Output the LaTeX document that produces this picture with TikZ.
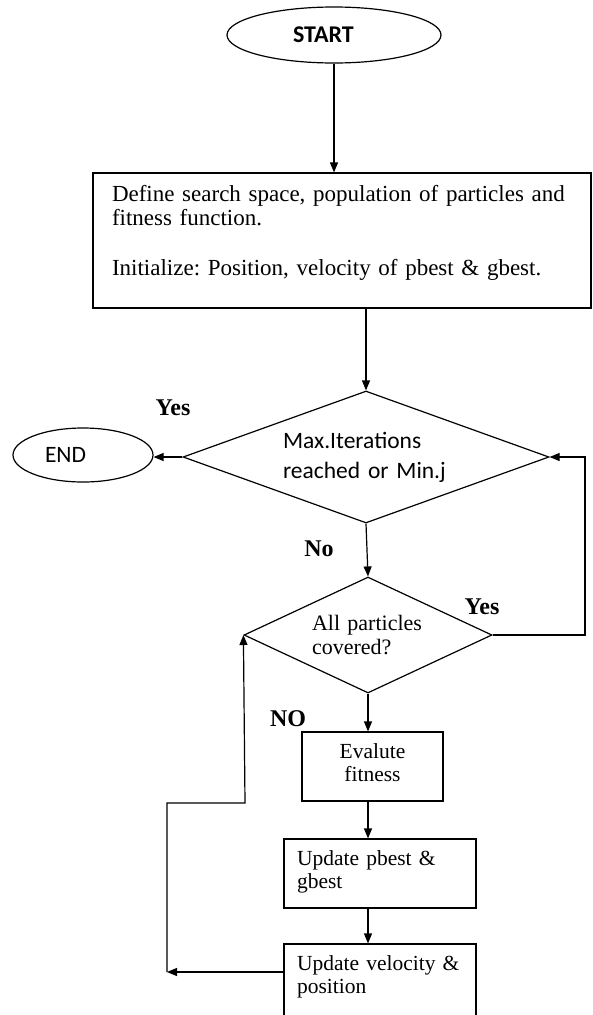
\documentclass[tikz,border=0pt]{standalone}
\usepackage{fontspec}
\setmainfont{Liberation Serif}
\newfontfamily\calfont{Carlito}
\usetikzlibrary{shapes.geometric,arrows.meta}
\frenchspacing

\begin{document}
\begin{tikzpicture}[
  x=1pt, y=-1pt, line width=1.2pt,
  term/.style={draw, ellipse, inner sep=0pt, align=left},
  proc/.style={draw, rectangle, inner ysep=0pt, font=\fontsize{21.5}{23.5}\selectfont},
  dec/.style={draw, diamond, inner sep=0pt, align=left},
  ans/.style={font=\bfseries\fontsize{24}{28}\selectfont},
  arr/.style={-{Triangle[length=10pt,width=8pt]}},
]
\useasboundingbox (0,0) rectangle (592,1015);
\node[term, minimum width=214pt, minimum height=56pt, text width=82pt, font=\calfont\bfseries\fontsize{24}{28}\selectfont] (start) at (334,35) {START};
\node[proc, align=left, text width=460pt, inner xsep=19pt, text height=28pt, text depth=107pt, font=\fontsize{23}{24.7}\selectfont] (def) at (342,240.5) {Define search space, population of particles and\\fitness function.\\[24.7pt]Initialize: Position, velocity of pbest \& gbest.};
\node[dec, aspect=2.77, minimum width=366pt, minimum height=132pt, text width=166pt, font=\calfont\fontsize{23.5}{30}\selectfont] (maxit) at (366,457) {Max.Iterations\\reached or Min.j};
\node[term, minimum width=140pt, minimum height=54pt, text width=76pt, font=\calfont\fontsize{23.5}{28}\selectfont] (end) at (83,455) {END};
\node[dec, aspect=2.14, minimum width=248pt, minimum height=116pt, text width=112pt, font=\fontsize{22}{24}\selectfont] (cover) at (368,635) {All particles\\covered?};
\node[proc, align=center, text width=131pt, inner xsep=5pt, text height=26pt, text depth=43pt] (eval) at (372.5,766.5) {Evalute\\fitness};
\node[proc, align=left, text width=166pt, inner xsep=13pt, text height=26pt, text depth=43pt] (best) at (380,873.5) {Update pbest \&\\gbest};
\node[proc, align=left, text width=166pt, inner xsep=13pt, text height=26pt, text depth=50pt] (move) at (380,982) {Update velocity \&\\position};
\node[ans] (yesend) at (173,408) {Yes};
\node[ans] (nocover) at (319,549) {No};
\node[ans] (yesloop) at (482,607) {Yes};
\node[ans] (noeval) at (288,719) {NO};
\coordinate (rloop) at (585,457);
\coordinate (lloop) at (167,972);
\coordinate (lturn) at (245,803);
\draw[arr] (start.south) -- (start.south |- def.north);
\draw[arr] (maxit.north |- def.south) -- (maxit.north);
\draw[arr] (maxit.west) -- (maxit.west -| end.east);
\draw[arr] (maxit.south) -- (cover.north);
\draw[arr] (cover.east) -| (rloop) -- (maxit.east);
\draw[arr] (cover.south) -- (cover.south |- eval.north);
\draw[arr] (cover.south |- eval.south) -- (cover.south |- best.north);
\draw[arr] (cover.south |- best.south) -- (cover.south |- move.north);
\draw[arr] (move.west |- lloop) -- (lloop);
\draw[arr] (lloop) |- (lturn) -- (cover.west);
\end{tikzpicture}
\end{document}
